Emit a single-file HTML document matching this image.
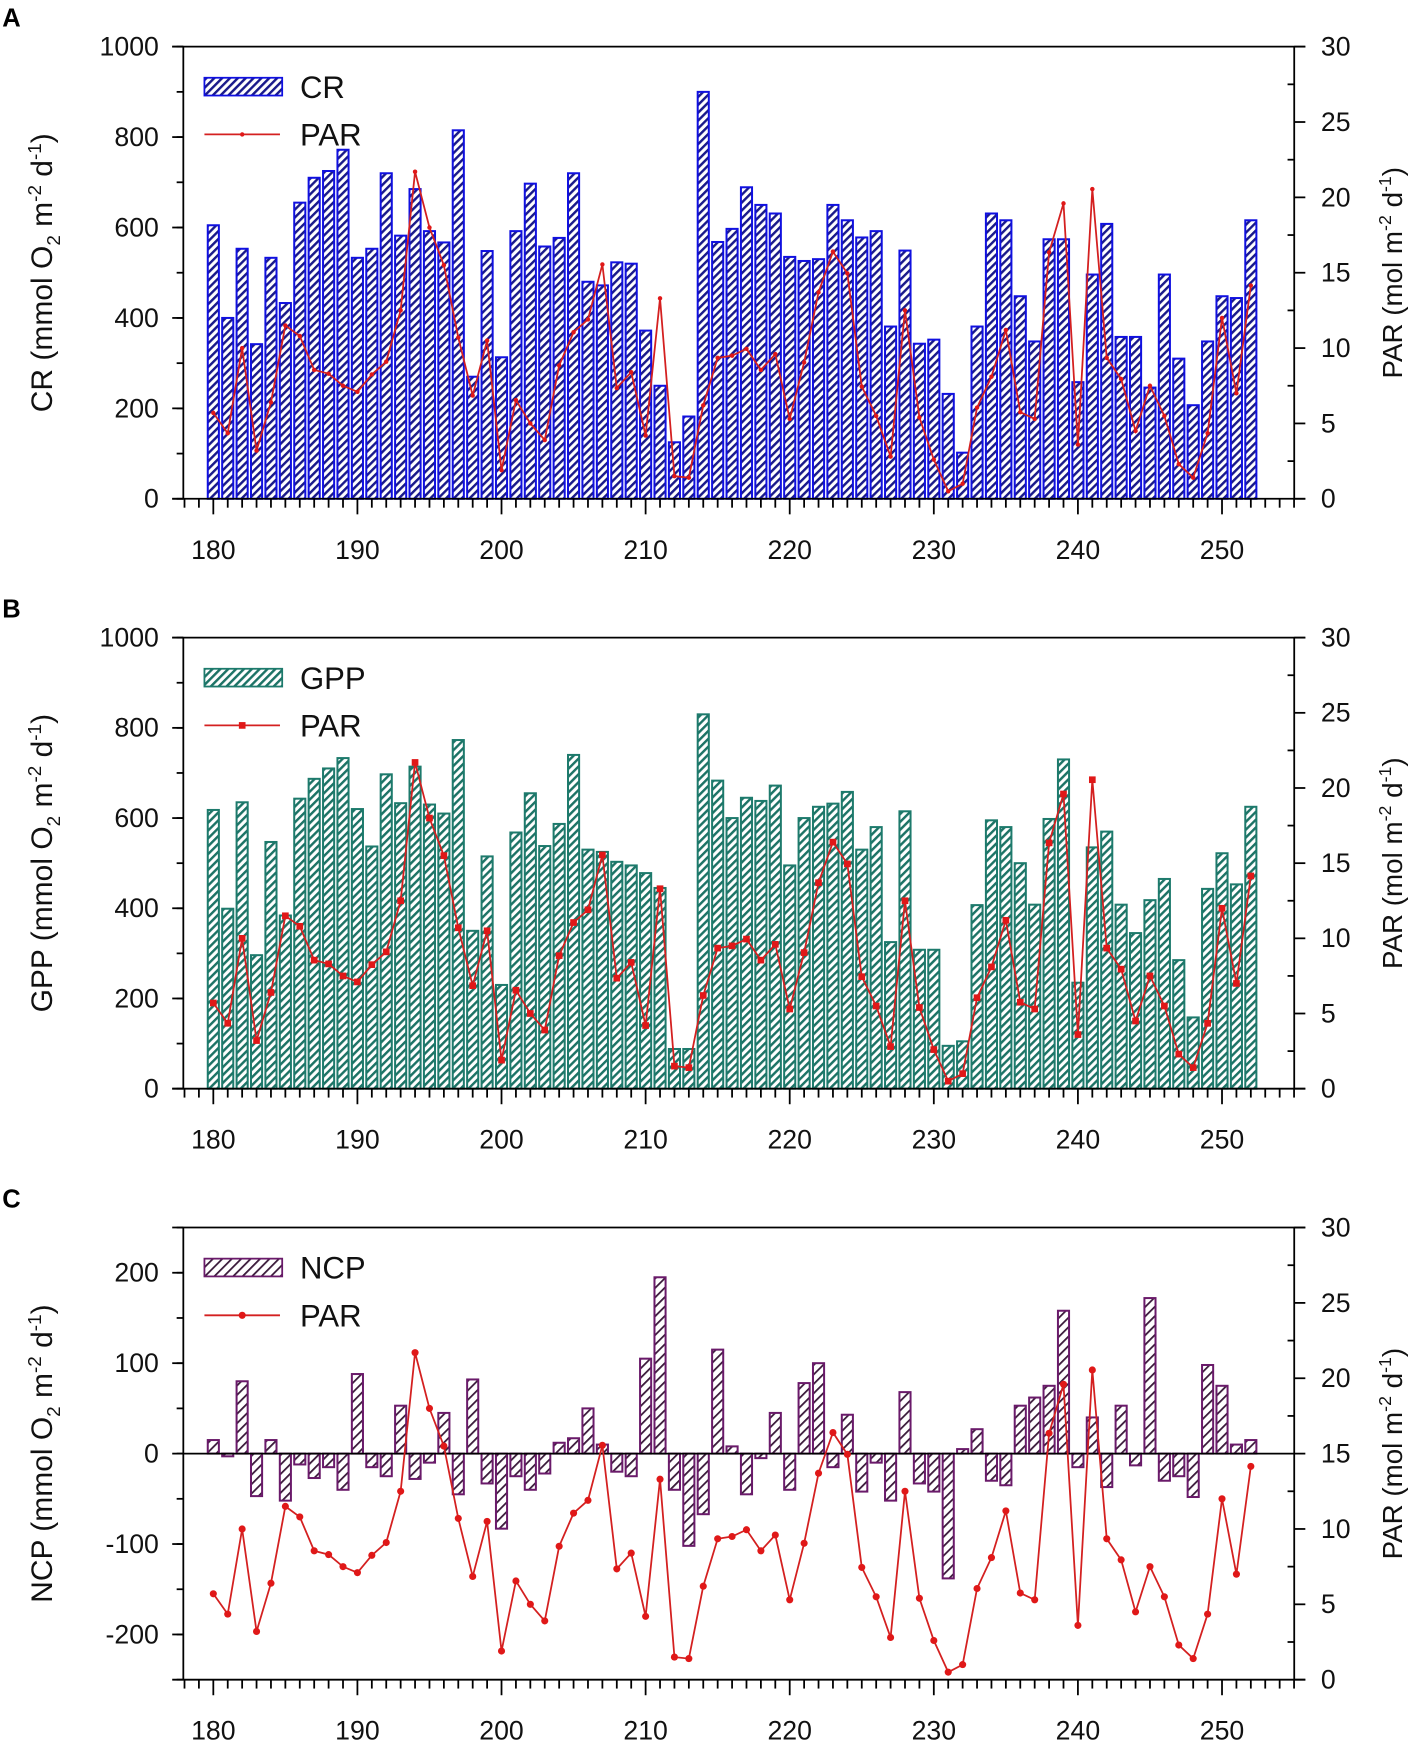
<!DOCTYPE html>
<html><head><meta charset="utf-8"><style>
html,body{margin:0;padding:0;background:#fff;}
svg{display:block;font-family:"Liberation Sans",Arial,sans-serif;}
</style></head><body>
<svg id="fig" width="1422" height="1741" viewBox="0 0 1280 1567.2" xmlns="http://www.w3.org/2000/svg">
<defs>
<pattern id="hA" patternUnits="userSpaceOnUse" width="5" height="5" patternTransform="rotate(45)"><rect width="5" height="5" fill="#fff"/><rect width="2.2" height="5" fill="#1a1a8a"/></pattern>
<pattern id="hB" patternUnits="userSpaceOnUse" width="5" height="5" patternTransform="rotate(45)"><rect width="5" height="5" fill="#fff"/><rect width="2.2" height="5" fill="#1d7366"/></pattern>
<pattern id="hC" patternUnits="userSpaceOnUse" width="6" height="6" patternTransform="rotate(45)"><rect width="6" height="6" fill="#fff"/><rect width="1.6" height="6" fill="#3a1a3a"/></pattern>
</defs>
</svg>
<script>
const days = [];
for (let d = 180; d <= 252; d++) days.push(d);
const crValues = [605,400,553,342,533,433,655,710,725,772,533,553,720,582,685,592,567,815,270,548,313,592,697,558,577,720,480,472,523,520,372,250,125,182,900,568,597,689,650,631,535,526,530,650,616,578,592,381,549,343,352,232,102,381,631,616,448,348,574,574,258,496,608,358,358,246,496,310,207,348,448,444,616];
const gppValues = [618,399,635,296,547,384,643,687,710,733,620,537,697,633,714,630,610,773,350,515,230,568,655,538,587,740,530,525,503,495,478,445,88,88,830,683,600,645,638,672,495,600,625,632,658,530,580,325,615,308,308,95,105,407,595,580,500,408,598,730,235,535,570,408,345,418,465,285,158,443,522,453,625];
const ncpValues = [15,-3,80,-47,15,-52,-12,-27,-15,-40,88,-15,-25,53,-28,-10,45,-45,82,-33,-83,-25,-40,-22,12,17,50,10,-20,-25,105,195,-40,-102,-67,115,8,-45,-5,45,-40,78,100,-15,43,-42,-10,-52,68,-33,-42,-138,5,27,-30,-35,53,62,75,158,-15,40,-37,53,-13,172,-30,-25,-48,98,75,10,15];
const parValues = [5.7,4.35,10.0,3.2,6.4,11.5,10.8,8.55,8.3,7.5,7.1,8.25,9.1,12.5,21.7,18.0,15.5,10.7,6.85,10.5,1.9,6.55,5.0,3.9,8.85,11.05,11.9,15.55,7.35,8.4,4.2,13.3,1.5,1.4,6.2,9.35,9.5,9.95,8.55,9.6,5.3,9.05,13.7,16.4,14.95,7.45,5.5,2.8,12.5,5.4,2.6,0.5,1.0,6.05,8.1,11.2,5.75,5.3,16.35,19.6,3.6,20.55,9.35,7.95,4.5,7.5,5.5,2.3,1.4,4.35,12.0,7.0,14.15];
const xTickLabels = [180,190,200,210,220,230,240,250];
const parTickLabels = [0,5,10,15,20,25,30];
const crTickLabels = [0,200,400,600,800,1000];
const ncpTickLabels = [-200,-100,0,100,200];

const NS = "http://www.w3.org/2000/svg";
const svg = document.getElementById('fig');
function el(tag, attrs, parent) {
  const e = document.createElementNS(NS, tag);
  for (const k in attrs) e.setAttribute(k, attrs[k]);
  (parent || svg).appendChild(e);
  return e;
}
const L = 165, R = 1165;
function xScale(d) { return 192 + (d - 180) * (1100 - 192) / 70; }

function panel(cfg) {
  const g = el('g', {});
  
  
  const T = cfg.top, B = cfg.bottom;
  const yL = v => B - (v - cfg.min) / (cfg.max - cfg.min) * (B - T);
  const yR = v => B - v / 30 * (B - T);
  const pl = el('text', {x: 2, y: T - 18, 'font-size': 23, 'font-weight': 'bold'}, g);
  pl.textContent = cfg.letter;
  
  
  const bars = el('g', {}, g);
  
  
  const base = cfg.min < 0 ? yL(0) : B;
  cfg.values.forEach((v, i) => {
    const x = xScale(days[i]);
    const y = yL(v);
    const r = el('rect', {x: x - 5, y: Math.min(y, base), width: 10, height: Math.abs(base - y), fill: 'url(#' + cfg.pat + ')', stroke: cfg.stroke, 'stroke-width': 1.8}, bars);
    
    
  });
  if (cfg.min < 0) {
    const z = el('line', {x1: L, x2: R, y1: yL(0), y2: yL(0), stroke: '#000', 'stroke-width': 1.5}, g);
    
    
  }
  const pts = parValues.map((p, i) => xScale(days[i]) + ',' + yR(p)).join(' ');
  const pl2 = el('polyline', {points: pts, fill: 'none', stroke: '#d42020', 'stroke-width': 1.6}, g);
  
  
  parValues.forEach((p, i) => {
    let m;
    if (cfg.marker === 'sq') m = el('rect', {x: xScale(days[i]) - 3, y: yR(p) - 3, width: 6, height: 6, fill: '#e01818'}, g);
    else m = el('circle', {cx: xScale(days[i]), cy: yR(p), r: cfg.marker === 'small' ? 2 : 3.2, fill: '#e01818'}, g);
    
    
  });
  const ax = el('g', {stroke: '#000', 'stroke-width': 1.6}, g);
  
  
  el('line', {x1: L - 10, x2: R + 10, y1: T, y2: T}, ax);
  el('line', {x1: L, x2: L, y1: T, y2: B}, ax);
  el('line', {x1: R, x2: R, y1: T, y2: B}, ax);
  el('line', {x1: L - 10, x2: R + 10, y1: B, y2: B}, ax);
  for (let d = 178; d <= 255; d++) {
    const x = xScale(d);
    if (x < L - 1 || x > R + 1) continue;
    el('line', {x1: x, x2: x, y1: B, y2: B + (d % 10 === 0 ? 14 : 8)}, ax);
  }
  xTickLabels.forEach(d => {
    const t = el('text', {x: xScale(d), y: B + 54, 'font-size': 24, 'text-anchor': 'middle', fill: '#111'}, g);
    t.textContent = d;
    
    
  });
  cfg.ticks.forEach(v => {
    el('line', {x1: L - 10, x2: L, y1: yL(v), y2: yL(v)}, ax);
    const t = el('text', {x: L - 22, y: yL(v) + 8, 'font-size': 24, 'text-anchor': 'end', fill: '#111'}, g);
    t.textContent = v;
    
    
  });
  for (let v = cfg.min; v <= cfg.max; v += cfg.minor) el('line', {x1: L - 6, x2: L, y1: yL(v), y2: yL(v)}, ax);
  parTickLabels.forEach(v => {
    el('line', {x1: R, x2: R + 10, y1: yR(v), y2: yR(v)}, ax);
    const t = el('text', {x: R + 24, y: yR(v) + 8, 'font-size': 24, fill: '#111'}, g);
    t.textContent = v;
    
    
  });
  for (let v = 2.5; v < 30; v += 5) el('line', {x1: R - 6, x2: R, y1: yR(v), y2: yR(v)}, ax);
  const mid = (T + B) / 2;
  const lt = el('text', {x: 0, y: 0, 'font-size': 27, 'text-anchor': 'middle', fill: '#111', transform: 'translate(47,' + mid + ') rotate(-90)'}, g);
  lt.innerHTML = cfg.yname + ' (mmol O<tspan font-size="17" dy="7">2</tspan><tspan dy="-7"> m</tspan><tspan font-size="17" dy="-10">-2</tspan><tspan dy="10"> d</tspan><tspan font-size="17" dy="-10">-1</tspan><tspan dy="10">)</tspan>';
  
  
  const rt = el('text', {x: 0, y: 0, 'font-size': 25, 'text-anchor': 'middle', fill: '#111', transform: 'translate(1262,' + mid + ') rotate(-90)'}, g);
  rt.innerHTML = 'PAR (mol m<tspan font-size="16" dy="-10">-2</tspan><tspan dy="10"> d</tspan><tspan font-size="16" dy="-10">-1</tspan><tspan dy="10">)</tspan>';
  
  
  const lg = el('g', {}, g);
  
  
  const ly = T + 28;
  el('rect', {x: 184, y: ly, width: 70, height: 16, fill: 'url(#' + cfg.pat + ')', stroke: cfg.stroke, 'stroke-width': 1.6}, lg);
  const t1 = el('text', {x: 270, y: ly + 18, 'font-size': 28, fill: '#111'}, lg);
  t1.textContent = cfg.name.toUpperCase();
  
  
  el('line', {x1: 184, x2: 252, y1: ly + 51, y2: ly + 51, stroke: '#d42020', 'stroke-width': 1.6}, lg);
  if (cfg.marker === 'sq') el('rect', {x: 215, y: ly + 48, width: 6, height: 6, fill: '#e01818'}, lg);
  else el('circle', {cx: 218, cy: ly + 51, r: cfg.marker === 'small' ? 2 : 3.2, fill: '#e01818'}, lg);
  const t2 = el('text', {x: 270, y: ly + 61, 'font-size': 28, fill: '#111'}, lg);
  t2.textContent = 'PAR';
  
  
}

panel({name: 'cr', letter: 'A', top: 42, bottom: 449, min: 0, max: 1000, minor: 100, ticks: crTickLabels, values: crValues, pat: 'hA', stroke: '#1010e0', marker: 'small', yname: 'CR'});
panel({name: 'gpp', letter: 'B', top: 574, bottom: 980, min: 0, max: 1000, minor: 100, ticks: crTickLabels, values: gppValues, pat: 'hB', stroke: '#1d7a6c', marker: 'sq', yname: 'GPP'});
panel({name: 'ncp', letter: 'C', top: 1105, bottom: 1512, min: -250, max: 250, minor: 50, ticks: ncpTickLabels, values: ncpValues, pat: 'hC', stroke: '#6a1a6a', marker: 'circ', yname: 'NCP'});
</script>
</body></html>
